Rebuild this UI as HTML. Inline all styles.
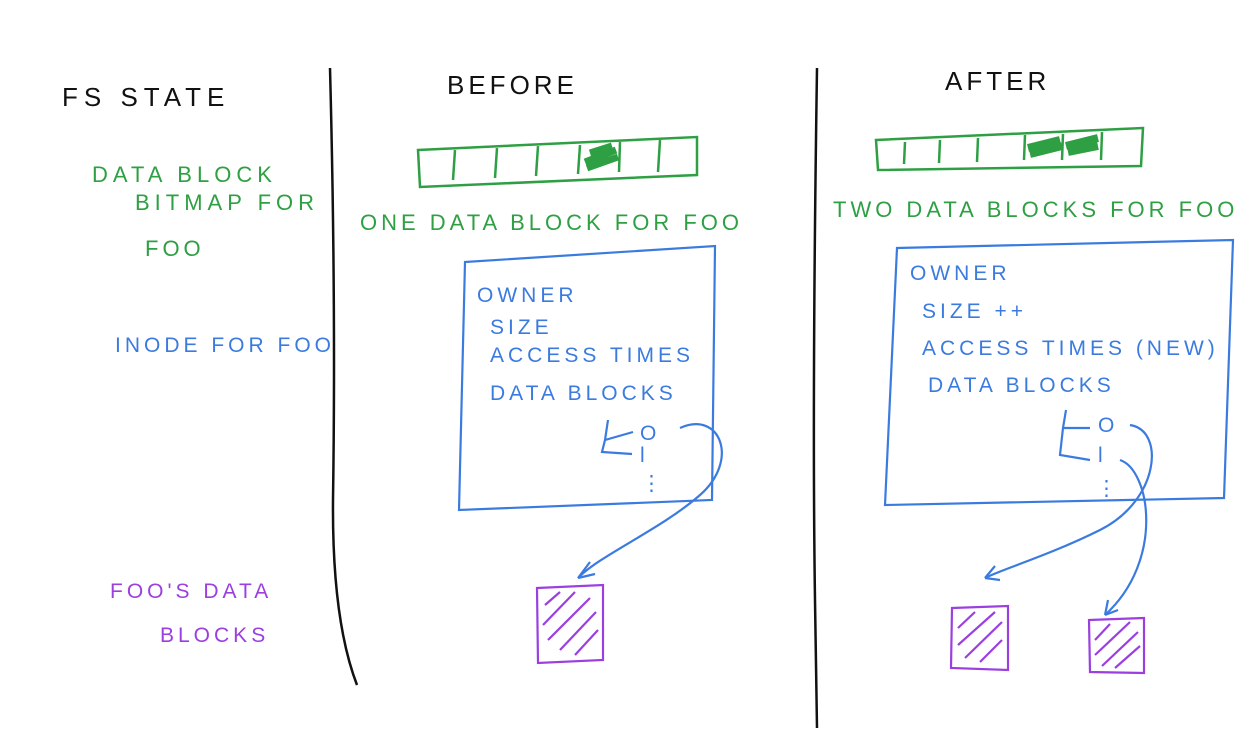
<!DOCTYPE html>
<html><head><meta charset="utf-8"><style>
html,body{margin:0;padding:0;background:#fff;}
svg{display:block}
text{font-family:"Liberation Sans",sans-serif;letter-spacing:4px}
.k{fill:#111;font-size:26px}
.g{fill:#2ea043;font-size:22px}
.b{fill:#3b7be0;font-size:21px}
.p{fill:#9b3fe0;font-size:21px}
</style></head><body>
<svg width="1260" height="756" viewBox="0 0 1260 756">
<rect width="1260" height="756" fill="#fff"/>
<path d="M330 68 Q336 300 333 500 Q332 620 357 685" stroke="#111" stroke-width="2.5" fill="none"/>
<path d="M817 68 Q812 400 815 600 Q816 680 817 728" stroke="#111" stroke-width="2.5" fill="none"/>
<text class="k" x="62" y="106" style="letter-spacing:6px">FS   STATE</text>
<text class="k" x="447" y="94">BEFORE</text>
<text class="k" x="945" y="90">AFTER</text>
<text class="g" x="92" y="182" style="letter-spacing:5px">DATA  BLOCK</text>
<text class="g" x="135" y="210" style="letter-spacing:5px">BITMAP  FOR</text>
<text class="g" x="145" y="256">FOO</text>
<text class="b" x="115" y="352">INODE  FOR  FOO</text>
<text class="p" x="110" y="598">FOO'S  DATA</text>
<text class="p" x="160" y="642">BLOCKS</text>
<g stroke="#2ea043" stroke-width="2.5" fill="none">
<path d="M418 150 L697 137 L697 175 L420 187 Z"/>
<path d="M455 150 L453 180 M497 148 L495 178 M538 146 L536 176 M580 145 L578 174 M620 142 L619 172 M660 140 L658 172"/>
<path d="M585 162 L616 150 M587 168 L618 157 M590 153 L612 146" stroke-width="7"/>
<path d="M876 140 L1143 128 L1141 166 L878 170 Z"/>
<path d="M905 142 L904 164 M940 140 L939 163 M978 138 L977 162 M1025 135 L1024 160 M1063 134 L1062 160 M1102 132 L1101 160"/>
<path d="M1028 148 L1060 140 M1030 154 L1062 146 M1066 146 L1098 138 M1068 152 L1098 146" stroke-width="8"/>
</g>
<text class="g" x="360" y="230">ONE  DATA  BLOCK  FOR  FOO</text>
<text class="g" x="833" y="217">TWO  DATA BLOCKS  FOR FOO</text>
<g stroke="#3b7be0" stroke-width="2.2" fill="none">
<path d="M465 262 L715 246 L712 500 L459 510 Z"/>
<path d="M897 248 L1233 240 L1224 498 L885 505 Z"/>
<path d="M608 420 L605 440 L633 432 M605 440 L602 452 L632 454"/>
<path d="M1066 410 L1063 428 L1090 428 M1063 428 L1060 455 L1090 460"/>
<path d="M680 428 C720 410 740 460 700 495 C660 530 600 555 578 578"/>
<path d="M578 578 L590 562 M578 578 L595 574"/>
<path d="M1130 425 C1165 430 1160 500 1100 530 C1050 555 1000 570 985 578"/>
<path d="M985 578 L995 566 M985 578 L1000 580"/>
<path d="M1120 460 C1150 470 1165 560 1105 615"/>
<path d="M1105 615 L1108 600 M1105 615 L1118 610"/>
</g>
<text class="b" x="477" y="302">OWNER</text>
<text class="b" x="490" y="334">SIZE</text>
<text class="b" x="490" y="362">ACCESS  TIMES</text>
<text class="b" x="490" y="400">DATA  BLOCKS</text>
<text class="b" x="640" y="440">O</text>
<text class="b" x="640" y="462">l</text>
<text class="b" x="641" y="490">⋮</text>
<text class="b" x="910" y="280">OWNER</text>
<text class="b" x="922" y="318">SIZE ++</text>
<text class="b" x="922" y="355">ACCESS  TIMES (NEW)</text>
<text class="b" x="928" y="392">DATA  BLOCKS</text>
<text class="b" x="1098" y="432">O</text>
<text class="b" x="1098" y="462">l</text>
<text class="b" x="1096" y="495">⋮</text>
<g stroke="#9b3fe0" stroke-width="2.2" fill="none">
<path d="M537 588 L603 585 L603 660 L538 663 Z"/>
<path d="M545 605 L560 592 M543 625 L575 592 M548 640 L590 598 M560 650 L596 612 M575 655 L598 630"/>
<path d="M952 608 L1008 606 L1008 670 L951 668 Z"/>
<path d="M958 628 L975 612 M958 645 L995 612 M965 658 L1002 622 M980 662 L1002 640"/>
<path d="M1089 620 L1144 618 L1144 673 L1090 672 Z"/>
<path d="M1095 640 L1110 624 M1095 655 L1130 622 M1102 666 L1138 632 M1115 668 L1140 646"/>
</g>
</svg>
</body></html>
